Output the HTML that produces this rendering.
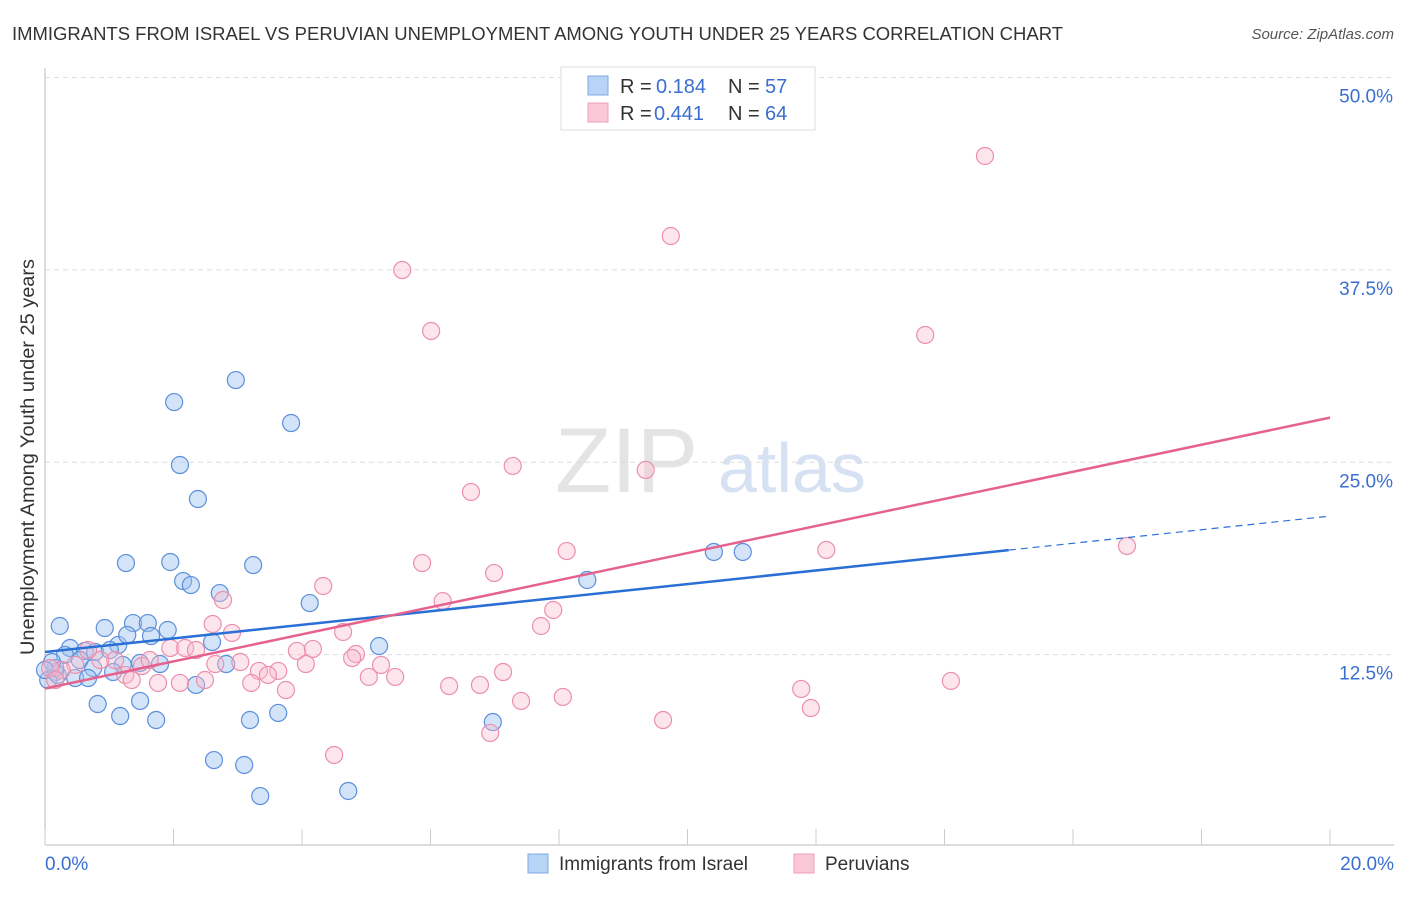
<!DOCTYPE html>
<html><head><meta charset="utf-8"><style>
body{margin:0;background:#fff;font-family:"Liberation Sans",sans-serif}
svg text{font-family:"Liberation Sans",sans-serif}
</style></head><body>
<svg id="chart" width="1406" height="892" xmlns="http://www.w3.org/2000/svg">
<text x="12" y="40" font-size="18" fill="#333" textLength="1051" lengthAdjust="spacingAndGlyphs">IMMIGRANTS FROM ISRAEL VS PERUVIAN UNEMPLOYMENT AMONG YOUTH UNDER 25 YEARS CORRELATION CHART</text>
<text x="1394" y="39" font-size="15" fill="#555" font-style="italic" text-anchor="end">Source: ZipAtlas.com</text>
<text x="34" y="457" font-size="19" fill="#333" text-anchor="middle" transform="rotate(-90 34 457)" textLength="396" lengthAdjust="spacingAndGlyphs">Unemployment Among Youth under 25 years</text>
<text x="555" y="492" font-size="92" fill="#e4e4e4" font-family="Liberation Serif">ZIP</text>
<text x="718" y="492" font-size="70" fill="#d6e2f3">atlas</text>
<g id="grid"></g><g id="marks"></g><g id="lines"></g>
<g>
<rect x="561" y="67" width="254" height="63" fill="#fff" stroke="#ddd"/>
<rect x="588" y="76" width="20" height="19" fill="#b7d3f6" stroke="#7fa9e0"/>
<rect x="588" y="103" width="20" height="19" fill="#fbc8d6" stroke="#eea0b8"/>
<text y="93" font-size="20" fill="#333"><tspan x="620">R =</tspan><tspan x="656" fill="#3a6fd0">0.184</tspan><tspan x="728">N =</tspan><tspan x="765" fill="#3a6fd0">57</tspan></text>
<text y="120" font-size="20" fill="#333"><tspan x="620">R =</tspan><tspan x="654" fill="#3a6fd0">0.441</tspan><tspan x="728">N =</tspan><tspan x="765" fill="#3a6fd0">64</tspan></text>
</g>
<g>
<rect x="528" y="854" width="20" height="19" fill="#b7d3f6" stroke="#7fa9e0"/>
<text x="559" y="870" font-size="19" fill="#333">Immigrants from Israel</text>
<rect x="794" y="854" width="20" height="19" fill="#fbc8d6" stroke="#eea0b8"/>
<text x="825" y="870" font-size="19" fill="#333">Peruvians</text>
</g>
</svg>
<script>
const xTicks=[0,2,4,6,8,10,12,14,16,18,20];
const yTicks=[12.5,25,37.5,50];
const yTickLabels=["12.5%","25.0%","37.5%","50.0%"];
const israelPx=[[60,626],[105,628],[133,623],[148,623],[168,630],[118,645],[127,635],[151,636],[70,648],[85,651],[95,652],[110,650],[65,655],[80,660],[93,668],[123,665],[140,663],[160,664],[55,672],[48,680],[58,675],[75,678],[88,678],[113,672],[55,668],[98,704],[120,716],[140,701],[156,720],[196,685],[226,664],[212,642],[170,562],[126,563],[183,581],[191,585],[220,593],[253,565],[198,499],[180,465],[174,402],[236,380],[291,423],[310,603],[379,646],[250,720],[278,713],[244,765],[214,760],[260,796],[348,791],[493,722],[587,580],[714,552],[743,552],[52,662],[45,670]];
const peruPx=[[985,156],[671,236],[402,270],[431,331],[925,335],[513,466],[646,470],[471,492],[1127,546],[826,550],[567,551],[422,563],[494,573],[323,586],[223,600],[443,601],[553,610],[541,626],[232,633],[213,624],[343,632],[170,648],[185,648],[196,650],[297,651],[313,649],[356,654],[352,658],[240,662],[306,664],[381,665],[215,664],[259,671],[278,671],[268,675],[369,677],[395,677],[503,672],[205,680],[158,683],[180,683],[251,683],[286,690],[449,686],[480,685],[801,689],[951,681],[563,697],[521,701],[811,708],[663,720],[490,733],[334,755],[115,660],[100,660],[75,665],[62,670],[50,668],[55,680],[125,675],[132,680],[142,666],[150,660],[88,650]];
const israelX=israelPx.map(p=>+((p[0]-45)/64.25).toFixed(2));
const israelY=israelPx.map(p=>+((847-p[1])/15.39).toFixed(2));
const peruX=peruPx.map(p=>+((p[0]-45)/64.25).toFixed(2));
const peruY=peruPx.map(p=>+((847-p[1])/15.39).toFixed(2));
const israelTrend=[12.67,21.5];
const peruTrend=[10.3,27.9];
const israelSolidEnd=15;

const X=v=>45+v*64.25, Y=v=>847-v*15.39;
const NS="http://www.w3.org/2000/svg";
function mk(tag,attrs,parent){const e=document.createElementNS(NS,tag);for(const k in attrs)e.setAttribute(k,attrs[k]);parent.appendChild(e);return e;}
const grid=document.getElementById('grid'),marks=document.getElementById('marks'),lines=document.getElementById('lines');
yTicks.forEach((t,i)=>{
 const l=mk('line',{x1:45,x2:1394,y1:Y(t),y2:Y(t),stroke:'#ddd','stroke-dasharray':'5,4'},grid);
 
 
 const tx=mk('text',{x:1393,y:Y(t)+25,'font-size':19,fill:'#3a6fd0','text-anchor':'end'},grid);
 tx.textContent=yTickLabels[i];
 
 
});
const ax=mk('line',{x1:45,x2:1394,y1:845,y2:845,stroke:'#bbb'},grid);


const ay=mk('line',{x1:45,x2:45,y1:68,y2:845,stroke:'#bbb'},grid);


xTicks.forEach(t=>{
 const l=mk('line',{x1:X(t),x2:X(t),y1:829,y2:845,stroke:'#ccc'},grid);
 
 
});
[[0,'0.0%','start',45],[20,'20.0%','end',1394]].forEach(a=>{
 const tx=mk('text',{x:a[3],y:870,'font-size':19,fill:'#3a6fd0','text-anchor':a[2]},grid);
 tx.textContent=a[1];
 
 
});
israelX.forEach((v,i)=>{
 const c=mk('circle',{cx:X(v),cy:Y(israelY[i]),r:8.5,fill:'rgba(160,196,240,0.45)',stroke:'#5b8fdc','stroke-width':1.2},marks);
 
 
});
peruX.forEach((v,i)=>{
 const c=mk('circle',{cx:X(v),cy:Y(peruY[i]),r:8.5,fill:'rgba(250,190,208,0.4)',stroke:'#ec8fae','stroke-width':1.2},marks);
 
 
});
const bAt=x=>israelTrend[0]+(israelTrend[1]-israelTrend[0])*x/20;
const l1=mk('line',{x1:X(0),y1:Y(bAt(0)),x2:X(israelSolidEnd),y2:Y(bAt(israelSolidEnd)),stroke:'#2a6fd6','stroke-width':2.5},lines);


const l2=mk('line',{x1:X(israelSolidEnd),y1:Y(bAt(israelSolidEnd)),x2:X(20),y2:Y(bAt(20)),stroke:'#2a6fd6','stroke-width':1.2,'stroke-dasharray':'7,5'},lines);


const l3=mk('line',{x1:X(0),y1:Y(peruTrend[0]),x2:X(20),y2:Y(peruTrend[1]),stroke:'#e5628f','stroke-width':2.5},lines);


</script>
</body></html>
